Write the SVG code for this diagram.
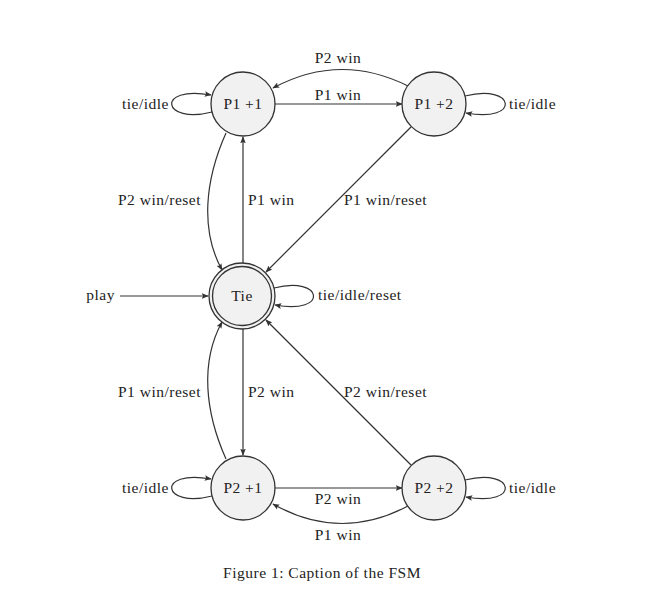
<svg xmlns="http://www.w3.org/2000/svg" width="663" height="613" viewBox="0 0 663 613">
<style>
text{font-family:"Liberation Serif","Times New Roman",serif;font-size:15.5px;letter-spacing:0.5px;fill:#222}
.node circle{fill:#f1f1f1;stroke:#333;stroke-width:1.3}
.edge{fill:none;stroke:#333;stroke-width:1.2;marker-end:url(#arr)}
.c{text-anchor:middle}
.e{text-anchor:end}
</style>
<defs>
<marker id="arr" viewBox="0 0 10 10" refX="9" refY="5" markerWidth="7" markerHeight="7" markerUnits="userSpaceOnUse" orient="auto">
<path d="M0,1 L10,5 L0,9 L2,5 Z" fill="#333"/>
</marker>
</defs>
<rect width="663" height="613" fill="#fff"/>
<g id="connectors">
<path class="edge" d="M275,104 L402,104"/>
<path class="edge" d="M408,86 Q340,52 273,88"/>
<path class="edge" d="M212,112 C162,125 155,85 211,95"/>
<path class="edge" d="M465,96 C515,83 522,123 466,113"/>
<path class="edge" d="M226,133 C205,180 200,230 222,270"/>
<path class="edge" d="M243,263 L243,137"/>
<path class="edge" d="M411,127 L266,272"/>
<path class="edge" d="M120,296 L208,296"/>
<path class="edge" d="M274,288 C323,275 330,315 275,305"/>
<path class="edge" d="M243,329 L243,455"/>
<path class="edge" d="M226,459 C205,412 200,362 222,322"/>
<path class="edge" d="M411,465 L266,320"/>
<path class="edge" d="M275,488 L402,488"/>
<path class="edge" d="M408,506 Q340,542 273,504"/>
<path class="edge" d="M212,496 C162,509 155,469 211,479"/>
<path class="edge" d="M465,480 C515,467 522,507 466,497"/>
</g>
<g id="labels">
<text class="c" x="338" y="63">P2 win</text>
<text class="c" x="338" y="100">P1 win</text>
<text class="e" x="169" y="109">tie/idle</text>
<text x="509" y="109">tie/idle</text>
<text class="e" x="201" y="205">P2 win/reset</text>
<text x="248" y="205">P1 win</text>
<text x="344" y="205">P1 win/reset</text>
<text class="e" x="115" y="300">play</text>
<text x="318" y="300">tie/idle/reset</text>
<text class="e" x="201" y="397">P1 win/reset</text>
<text x="248" y="397">P2 win</text>
<text x="344" y="397">P2 win/reset</text>
<text class="e" x="169" y="493">tie/idle</text>
<text x="509" y="493">tie/idle</text>
<text class="c" x="338" y="504">P2 win</text>
<text class="c" x="338" y="540">P1 win</text>
<text class="c" x="322" y="578">Figure 1: Caption of the FSM</text>
</g>
<g id="P1p1" class="node"><circle cx="243" cy="104" r="32"/><text class="c" x="243" y="109">P1 +1</text></g>
<g id="P1p2" class="node"><circle cx="434" cy="104" r="32"/><text class="c" x="434" y="109">P1 +2</text></g>
<g id="Tie" class="node"><circle cx="242" cy="296" r="33"/><circle cx="242" cy="296" r="29.5"/><text class="c" x="242" y="301">Tie</text></g>
<g id="P2p1" class="node"><circle cx="243" cy="488" r="32"/><text class="c" x="243" y="493">P2 +1</text></g>
<g id="P2p2" class="node"><circle cx="434" cy="488" r="32"/><text class="c" x="434" y="493">P2 +2</text></g>
</svg>
